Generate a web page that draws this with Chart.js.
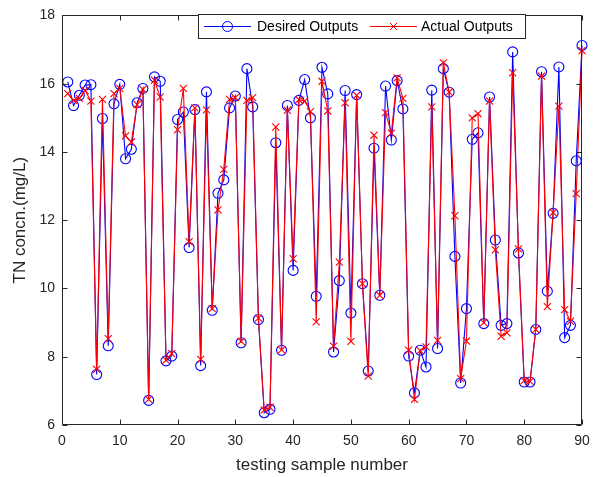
<!DOCTYPE html>
<html><head><meta charset="utf-8">
<script src="https://cdn.jsdelivr.net/npm/chart.js@4.4.0/dist/chart.umd.min.js"></script>
<style>html,body{margin:0;padding:0;background:#fff;overflow:hidden}</style>
</head><body>
<canvas id="c" width="608" height="477" style="display:block;width:608px;height:477px"></canvas>
<script>
const sampleNumbers = [1,2,3,4,5,6,7,8,9,10,11,12,13,14,15,16,17,18,19,20,21,22,23,24,25,26,27,28,29,30,31,32,33,34,35,36,37,38,39,40,41,42,43,44,45,46,47,48,49,50,51,52,53,54,55,56,57,58,59,60,61,62,63,64,65,66,67,68,69,70,71,72,73,74,75,76,77,78,79,80,81,82,83,84,85,86,87,88,89,90];
const desiredOutputs = [16.05,15.36,15.66,15.96,15.97,7.48,14.98,8.32,15.41,15.98,13.80,14.08,15.44,15.86,6.72,16.20,16.07,7.88,8.02,14.95,15.17,11.20,15.24,7.74,15.76,9.36,12.79,13.18,15.29,15.64,8.41,16.44,15.32,9.09,6.36,6.46,14.27,8.19,15.36,10.53,15.51,16.12,15.00,9.77,16.48,15.70,8.14,10.23,15.80,9.28,15.68,10.14,7.58,14.11,9.80,15.93,14.35,16.09,15.26,8.02,6.94,8.19,7.70,15.81,8.24,16.44,15.75,10.94,7.23,9.41,14.37,14.56,8.97,15.61,11.42,8.92,8.97,16.93,11.04,7.26,7.26,8.80,16.35,9.92,12.20,16.49,8.56,8.92,13.74,17.12];
const actualOutputs = [15.71,15.51,15.57,15.80,15.49,7.63,15.54,8.53,15.71,15.86,14.47,14.29,15.39,15.83,6.75,16.10,15.61,7.90,8.09,14.65,15.86,11.37,15.29,7.92,15.23,9.41,12.30,13.49,15.54,15.59,8.45,15.51,15.59,9.13,6.44,6.52,14.73,8.20,15.22,10.87,15.53,15.49,15.18,9.02,16.07,15.20,8.31,10.77,15.44,8.45,15.66,10.14,7.43,14.49,9.80,15.15,14.55,16.17,15.57,8.19,6.75,8.18,8.29,15.32,8.48,16.61,15.75,12.13,7.36,8.46,15.00,15.12,9.00,15.49,11.13,8.60,8.70,16.32,11.16,7.30,7.28,8.80,16.22,9.47,12.23,15.34,9.38,9.04,12.78,16.97];
const xTicks = [0,10,20,30,40,50,60,70,80,90];
const yTicks = [6,8,10,12,14,16,18];
const seriesNames = ['Desired Outputs','Actual Outputs'];
const xTitle = 'testing sample number';
const yTitle = 'TN concn.(mg/L)';

const FONT = "'Liberation Sans', Arial, Helvetica, sans-serif";
const AX = '#262626';
const BLUE = '#0000ff';
const RED = '#ff0000';

const axesPlugin = {
  id: 'matlabAxes',
  afterDraw(chart) {
    const ctx = chart.ctx, a = chart.chartArea;
    const xs = chart.scales.x, ys = chart.scales.y;
    ctx.save();
    ctx.strokeStyle = AX; ctx.lineWidth = 1;
    const L = Math.round(a.left) + 0.5, R = Math.round(a.right) - 0.5;
    const T = Math.round(a.top) + 0.5, B = Math.round(a.bottom) - 0.5;
    ctx.beginPath();
    ctx.rect(L, T, R - L, B - T);
    const tl = 5;
    xTicks.forEach(v => {
      const px = Math.round(xs.getPixelForValue(v)) + 0.5;
      ctx.moveTo(px, B); ctx.lineTo(px, B - tl);
      ctx.moveTo(px, T); ctx.lineTo(px, T + tl);
    });
    yTicks.forEach(v => {
      const py = Math.round(ys.getPixelForValue(v)) + 0.5;
      ctx.moveTo(L, py); ctx.lineTo(L + tl, py);
      ctx.moveTo(R, py); ctx.lineTo(R - tl, py);
    });
    ctx.stroke();

    // legend
    const bx = 198.5, by = 14.5, bw = 327, bh = 24;
    ctx.fillStyle = '#fff';
    ctx.fillRect(bx, by, bw, bh);
    ctx.strokeStyle = AX;
    ctx.strokeRect(bx, by, bw, bh);
    const cy = by + bh / 2;
    ctx.lineWidth = 1;
    ctx.strokeStyle = BLUE;
    ctx.beginPath(); ctx.moveTo(204, cy); ctx.lineTo(251, cy); ctx.stroke();
    ctx.beginPath(); ctx.arc(227.5, cy, 5, 0, Math.PI * 2); ctx.stroke();
    ctx.strokeStyle = RED;
    ctx.beginPath(); ctx.moveTo(370, cy); ctx.lineTo(417, cy); ctx.stroke();
    ctx.beginPath();
    ctx.moveTo(390, cy - 3.5); ctx.lineTo(397, cy + 3.5);
    ctx.moveTo(390, cy + 3.5); ctx.lineTo(397, cy - 3.5);
    ctx.stroke();
    ctx.fillStyle = '#000';
    ctx.font = '14px ' + FONT;
    ctx.textBaseline = 'middle';
    ctx.textAlign = 'left';
    ctx.fillText(seriesNames[0], 257, cy + 1);
    ctx.fillText(seriesNames[1], 421, cy + 1);
    ctx.restore();
  }
};

new Chart(document.getElementById('c'), {
  type: 'line',
  data: {
    datasets: [
      {
        label: seriesNames[0],
        data: sampleNumbers.map((s, i) => ({x: s, y: desiredOutputs[i]})),
        borderColor: BLUE, backgroundColor: 'rgba(0,0,0,0)',
        borderWidth: 1.1, pointStyle: 'circle', pointRadius: 5, pointBorderWidth: 1.1,
        pointBorderColor: BLUE, pointBackgroundColor: 'rgba(0,0,0,0)',
        tension: 0, order: 2, clip: false
      },
      {
        label: seriesNames[1],
        data: sampleNumbers.map((s, i) => ({x: s, y: actualOutputs[i]})),
        borderColor: RED, backgroundColor: 'rgba(0,0,0,0)',
        borderWidth: 1.1, pointStyle: 'crossRot', pointRadius: 5, pointBorderWidth: 1.1,
        pointBorderColor: RED,
        tension: 0, order: 1, clip: false
      }
    ]
  },
  options: {
    responsive: false, animation: false, devicePixelRatio: 1,
    layout: {padding: {left: 0, top: 14, right: 26, bottom: 0}},
    plugins: {legend: {display: false}, tooltip: {enabled: false}},
    scales: {
      x: {
        type: 'linear', min: 0, max: 90,
        afterFit(s) { s.height = 52; },
        afterBuildTicks(s) { s.ticks = xTicks.map(v => ({value: v})); },
        grid: {display: false, drawTicks: false},
        border: {display: false},
        ticks: {color: AX, font: {family: FONT, size: 14}, padding: 8, maxRotation: 0, autoSkip: false},
        title: {display: true, text: xTitle, color: AX, font: {family: FONT, size: 17}, padding: {top: 0, bottom: 1}}
      },
      y: {
        min: 6, max: 18,
        afterFit(s) { s.width = 62; },
        afterBuildTicks(s) { s.ticks = yTicks.map(v => ({value: v})); },
        grid: {display: false, drawTicks: false},
        border: {display: false},
        ticks: {color: AX, font: {family: FONT, size: 14}, padding: 7, autoSkip: false},
        title: {display: true, text: yTitle, color: AX, font: {family: FONT, size: 17}, padding: {top: 10, bottom: 0}}
      }
    }
  },
  plugins: [axesPlugin]
});
</script>
</body></html>
